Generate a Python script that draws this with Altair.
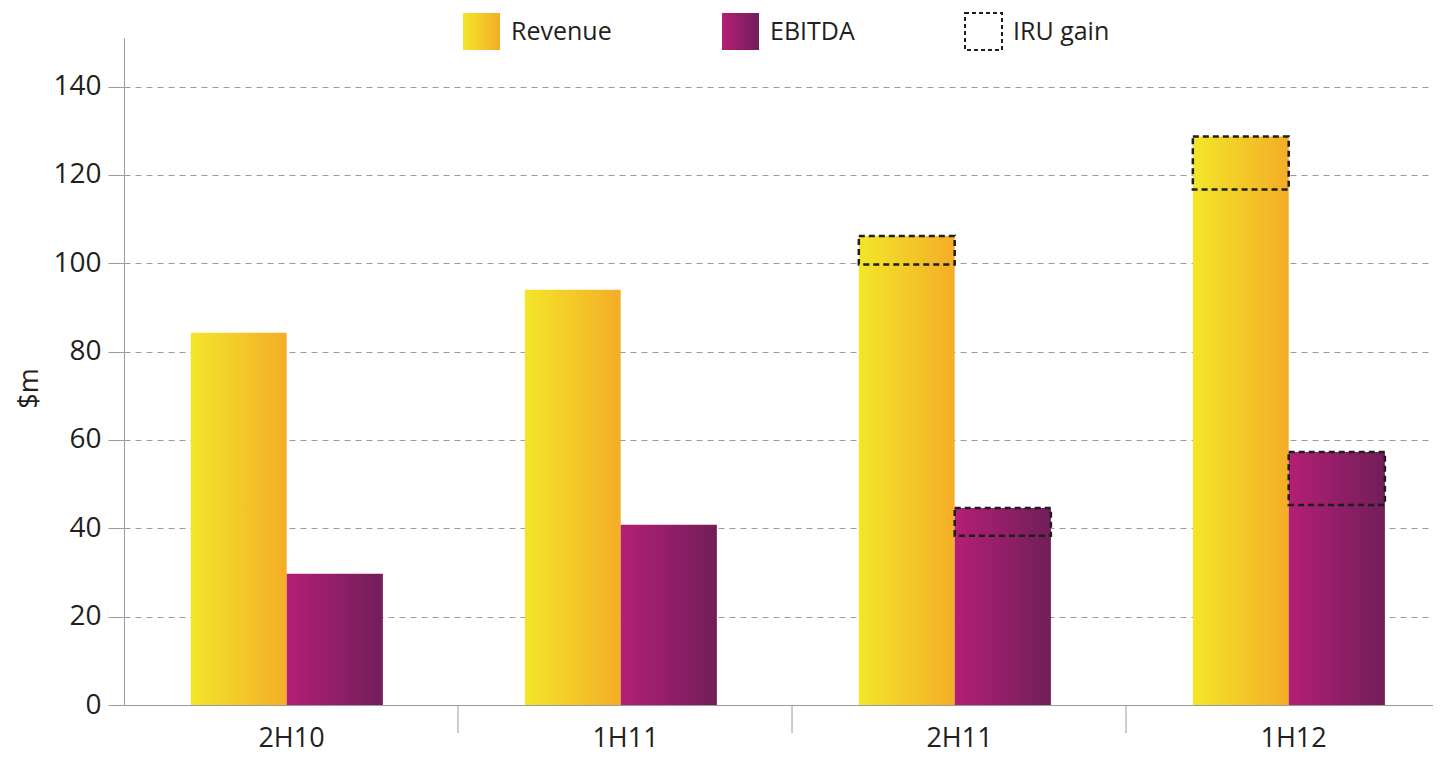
import json
import altair as alt
import pandas as pd

# ---------------- data ----------------
categories = ["2H10", "1H11", "2H11", "1H12"]
revenue = [84.3, 94.0, 106.2, 128.7]
ebitda = [29.7, 40.8, 44.6, 57.3]
iru_revenue = [0, 0, 6.5, 12.0]
iru_ebitda = [0, 0, 6.3, 12.0]
series_names = ["Revenue", "EBITDA", "IRU gain"]
y_ticks = [0, 20, 40, 60, 80, 100, 120, 140]

# ---------------- style ----------------
FONT = "Open Sans"
TEXT = "#231F20"
GREY = "#9B9B9B"
REV_STOPS = ("#F3E62A", "#F4AD27")
EBI_STOPS = ("#B31F74", "#711E5A")
OFFS = {"Revenue": (-0.30, -0.013), "EBITDA": (-0.013, 0.275)}

rows, iru_rows = [], []
for i, c in enumerate(categories):
    for s, vals, iru in (("Revenue", revenue, iru_revenue), ("EBITDA", ebitda, iru_ebitda)):
        a, b = OFFS[s]
        rows.append(dict(cat=c, series=s, x0=i + a, x1=i + b, y0=0, y1=vals[i]))
        if iru[i] > 0:
            iru_rows.append(dict(cat=c, series=s, x0=i + a, x1=i + b,
                                 y0=vals[i] - iru[i], y1=vals[i]))
df = pd.DataFrame(rows)
df_iru = pd.DataFrame(iru_rows)
df_sep = pd.DataFrame({"x0": [i + 0.5 for i in range(len(categories) - 1)]})
df_leg = pd.DataFrame({"series": series_names})


def grad(c0, c1):
    return alt.Gradient(gradient="linear", x1=0, y1=0, x2=1, y2=0,
                        stops=[alt.GradientStop(color=c0, offset=0),
                               alt.GradientStop(color=c1, offset=1)])


def grad_expr(c0, c1):
    return {"expr": "{gradient: 'linear', x1: 0, y1: 0, x2: 1, y2: 0, stops: ["
                    f"{{offset: 0, color: '{c0}'}}, {{offset: 1, color: '{c1}'}}]}}"}


label_expr = json.dumps(categories) + "[datum.value]"

x_axis = alt.Axis(values=list(range(len(categories))), labelExpr=label_expr,
                  ticks=False, tickSize=0, grid=False, domainColor=GREY,
                  labelFontSize=27, labelFont=FONT, labelColor=TEXT,
                  labelPadding=20, title=None)
y_axis = alt.Axis(values=y_ticks, title="$m", titleFontSize=27, titleFont=FONT,
                  titleFontWeight="normal", titleColor=TEXT, titleX=-95, titleY=350,
                  titleBaseline="middle",
                  grid=True, gridDash=[6, 5], gridColor=GREY, gridWidth=1,
                  tickSize=16, tickColor=GREY, domainColor=GREY,
                  labelFontSize=28, labelFont=FONT, labelColor=TEXT, labelPadding=7)

x_enc = alt.X("x0:Q", scale=alt.Scale(domain=[-0.5, 3.419], nice=False, zero=False), axis=x_axis)
y_enc = alt.Y("y0:Q", scale=alt.Scale(domain=[0, 151], nice=False), axis=y_axis)

rev = alt.Chart(df).transform_filter("datum.series == 'Revenue'").mark_rect(
    fill=grad(*REV_STOPS)).encode(x=x_enc, x2="x1:Q", y=y_enc, y2="y1:Q")
ebi = alt.Chart(df).transform_filter("datum.series == 'EBITDA'").mark_rect(
    fill=grad(*EBI_STOPS)).encode(x=x_enc, x2="x1:Q", y=y_enc, y2="y1:Q")
iru = alt.Chart(df_iru).mark_rect(
    fill="transparent", stroke="#1E1E1E", strokeWidth=2.5, strokeDash=[6, 4]
).encode(x=x_enc, x2="x1:Q", y=y_enc, y2="y1:Q")
sep = alt.Chart(df_sep).mark_rule(color=GREY, strokeWidth=1).encode(
    x=x_enc, y=alt.value(667), y2=alt.value(695))

leg_def = alt.Legend(title=None, orient="none", legendX=338, legendY=-26,
                     direction="horizontal", symbolType="square", symbolSize=1369,
                     symbolStrokeWidth=2, symbolOpacity=1, labelFontSize=25, labelFont=FONT,
                     labelColor=TEXT, labelOffset=10, columnPadding=106, labelLimit=0)
leg = alt.Chart(df_leg).transform_filter("false").mark_square(filled=True, opacity=1).encode(
    color=alt.Color("series:N", scale=alt.Scale(
        domain=series_names,
        range=[grad_expr(*REV_STOPS), grad_expr(*EBI_STOPS), "#FFFFFF"]), legend=leg_def),
    stroke=alt.Stroke("series:N", scale=alt.Scale(
        domain=series_names,
        range=["rgba(0,0,0,0)", "rgba(0,0,0,0)", "#1E1E1E"]), legend=leg_def),
    strokeDash=alt.StrokeDash("series:N", scale=alt.Scale(
        domain=series_names, range=[[1, 0], [1, 0], [4, 3]]), legend=leg_def),
)

chart = alt.layer(rev, ebi, iru, sep, leg).properties(
    width=1309, height=667,
    autosize=alt.AutoSizeParams(type="none"),
    padding={"left": 116, "top": 30, "right": 0, "bottom": 56},
).configure(font=FONT, background="white").configure_view(stroke="transparent", strokeWidth=0)

chart.save("out.html", embed_options={"renderer": "svg", "actions": False})
